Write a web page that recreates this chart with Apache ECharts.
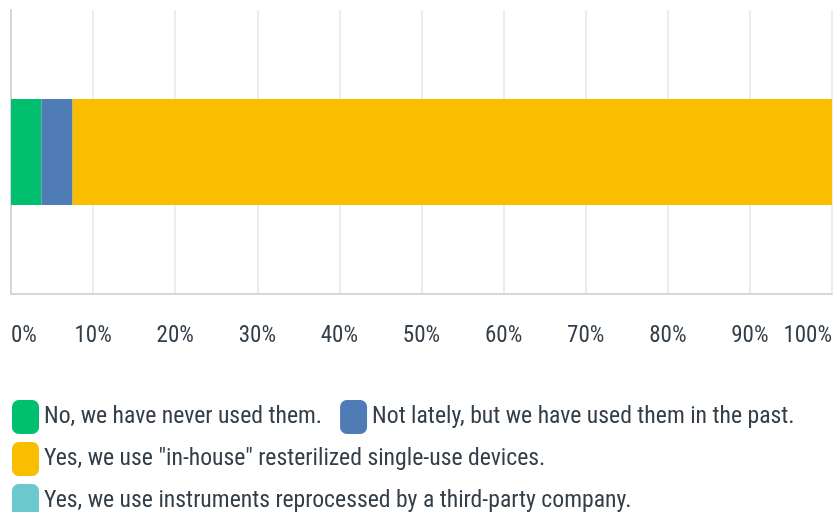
<!DOCTYPE html>
<html><head><meta charset="utf-8">
<script src="https://cdn.jsdelivr.net/npm/echarts@6/dist/echarts.min.js"></script>
<style>html,body{margin:0;padding:0;background:#fff}#c{width:835px;height:512px}</style>
</head><body><div id="c"></div>
<script>
const categories = ["Q"];
const seriesNames = [
  "No, we have never used them.",
  "Not lately, but we have used them in the past.",
  "Yes, we use \"in-house\" resterilized single-use devices.",
  "Yes, we use instruments reprocessed by a third-party company."
];
const valuesNo = [3.7];
const valuesNotLately = [3.8];
const valuesInHouse = [92.5];
const valuesThirdParty = [0];
const colors = ["#00bf6f", "#507cb6", "#f9be00", "#6bc8cd"];
const tickLabels = ["0%","10%","20%","30%","40%","50%","60%","70%","80%","90%","100%"];

const FONT = "'Liberation Sans Narrow', 'Roboto Condensed', Roboto, sans-serif";
const TXT = "#333e48";
const allValues = [valuesNo, valuesNotLately, valuesInHouse, valuesThirdParty];

const chart = echarts.init(document.getElementById('c'), null, {renderer:'canvas'});
const legendBase = {
  left: 7, itemWidth: 27, itemHeight: 34, itemGap: 18, icon: 'roundRect',
  textStyle: {fontFamily: FONT, fontSize: 23.7, color: TXT},
  selectedMode: false
};
chart.setOption({
  animation: false,
  color: colors,
  grid: {left: 11, right: 3, top: 10, bottom: 218},
  xAxis: {
    type: 'value', min: 0, max: 100, interval: 10,
    axisLine: {show: true, lineStyle: {color: '#d4d6d8', width: 2}},
    axisTick: {show: false},
    splitLine: {show: true, lineStyle: {color: '#ececec', width: 2}},
    axisLabel: {
      formatter: v => tickLabels[Math.round(v/10)],
      fontFamily: FONT, fontSize: 23, color: TXT, margin: 31,
      alignMinLabel: 'left', alignMaxLabel: 'right'
    }
  },
  yAxis: {
    type: 'category', data: categories,
    axisLine: {show: true, lineStyle: {color: '#d4d6d8', width: 2}},
    axisTick: {show: false}, axisLabel: {show: false}
  },
  legend: [
    Object.assign({}, legendBase, {top: 395, data: [seriesNames[0], seriesNames[1]]}),
    Object.assign({}, legendBase, {top: 437, data: [seriesNames[2]]}),
    Object.assign({}, legendBase, {top: 479, data: [seriesNames[3]]})
  ],
  series: seriesNames.map((n, i) => ({
    name: n, type: 'bar', stack: 'total', data: allValues[i],
    barWidth: 106, itemStyle: {color: colors[i]}
  }))
});
</script></body></html>
